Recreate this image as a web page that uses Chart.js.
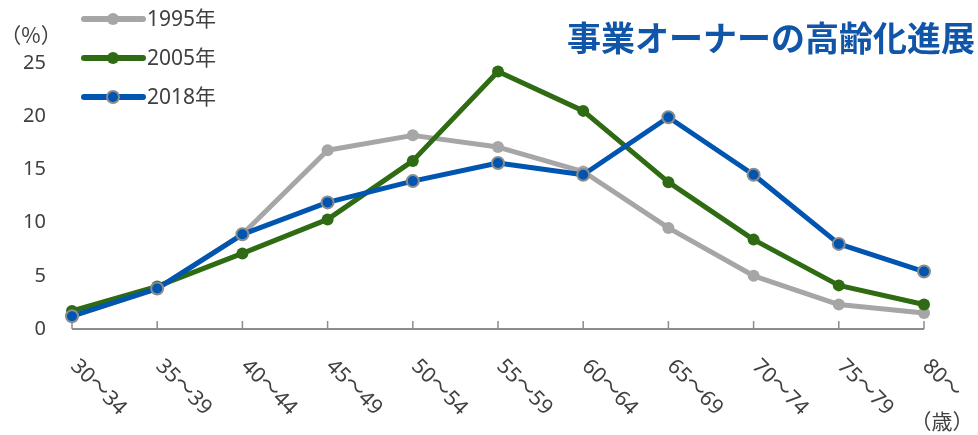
<!DOCTYPE html>
<html>
<head>
<meta charset="utf-8">
<script src="https://cdn.jsdelivr.net/npm/chart.js@4.4.1/dist/chart.umd.min.js"></script>
<style>
  body { margin: 0; background: #fff; }
</style>
</head>
<body>
<canvas id="myChart" width="978" height="435"></canvas>
<script>
const ageGroups = ['30～34', '35～39', '40～44', '45～49', '50～54', '55～59', '60～64', '65～69', '70～74', '75～79', '80～'];
const values1995 = [1.2, 3.8, 8.9, 16.8, 18.2, 17.1, 14.8, 9.5, 5.0, 2.3, 1.5];
const values2005 = [1.7, 4.0, 7.1, 10.3, 15.8, 24.2, 20.5, 13.8, 8.4, 4.1, 2.3];
const values2018 = [1.2, 3.8, 8.9, 11.9, 13.9, 15.6, 14.5, 19.9, 14.5, 8.0, 5.4];
const yTicks = [0, 5, 10, 15, 20, 25];
const seriesNames = ['1995年', '2005年', '2018年'];
const chartTitle = '事業オーナーの高齢化進展';

const FONT = '"Noto Sans", "Noto Sans CJK JP", sans-serif';
const CJK = '"Noto Sans CJK JP", "Noto Sans", sans-serif';
const TEXT = '#404040';
const AXIS = '#8c8c8c';
const colors = ['#a6a6a6', '#2e6b12', '#0055b0'];
const pointBorders = ['#a6a6a6', '#2e6b12', '#8c8c8c'];

function makeSet(i, data, order) {
    return {
        label: seriesNames[i],
        data: data,
        borderColor: colors[i],
        backgroundColor: colors[i],
        borderWidth: 5,
        borderJoinStyle: 'round',
        borderCapStyle: 'round',
        pointRadius: 6,
        pointBackgroundColor: colors[i],
        pointBorderColor: pointBorders[i],
        pointBorderWidth: i === 2 ? 2 : 0,
        tension: 0,
        fill: false,
        clip: false,
        order: order
    };
}

// axis, rotated labels, legend and title
const extras = {
    id: 'extras',
    afterDraw(chart) {
        const ctx = chart.ctx;
        const x = chart.scales.x;
        const area = chart.chartArea;
        ctx.save();

        // x axis line + inner ticks
        ctx.strokeStyle = AXIS;
        ctx.lineWidth = 2;
        ctx.beginPath();
        ctx.moveTo(x.getPixelForValue(0), area.bottom);
        ctx.lineTo(x.getPixelForValue(ageGroups.length - 1), area.bottom);
        ctx.stroke();
        ctx.lineWidth = 1.5;
        ageGroups.forEach((g, i) => {
            const px = x.getPixelForValue(i);
            ctx.beginPath();
            ctx.moveTo(px, area.bottom);
            ctx.lineTo(px, area.bottom - 8);
            ctx.stroke();
        });

        // rotated category labels
        ctx.fillStyle = TEXT;
        ctx.font = '21px ' + FONT;
        ctx.textAlign = 'left';
        ctx.textBaseline = 'middle';
        ageGroups.forEach((g, i) => {
            const px = x.getPixelForValue(i);
            ctx.save();
            ctx.translate(px + 2, area.bottom + 34);
            ctx.rotate(Math.PI / 4);
            ctx.fillText(g, 0, 0);
            ctx.restore();
        });

        // units
        ctx.font = '21px ' + CJK;
        ctx.textAlign = 'center';
        ctx.fillText('（歳）', x.getPixelForValue(ageGroups.length - 1) + 18, 421);
        ctx.fillText('（%）', 31, 35);

        // legend
        const legendY = [19, 58, 97];
        seriesNames.forEach((name, i) => {
            const y = legendY[i];
            ctx.strokeStyle = colors[i];
            ctx.lineWidth = 6;
            ctx.lineCap = 'round';
            ctx.beginPath();
            ctx.moveTo(84, y);
            ctx.lineTo(143, y);
            ctx.stroke();
            ctx.beginPath();
            ctx.arc(113, y, 6, 0, Math.PI * 2);
            ctx.fillStyle = colors[i];
            ctx.fill();
            if (i === 2) {
                ctx.lineWidth = 2;
                ctx.strokeStyle = pointBorders[i];
                ctx.stroke();
            }
            ctx.fillStyle = TEXT;
            ctx.font = '21px ' + FONT;
            ctx.textAlign = 'left';
            ctx.fillText(name, 147, y + 1);
        });

        // title
        ctx.fillStyle = '#1155a8';
        ctx.font = 'bold 34px ' + CJK;
        ctx.textAlign = 'right';
        ctx.fillText(chartTitle, 975, 38);
        ctx.restore();
    }
};

const ctx = document.getElementById('myChart').getContext('2d');
new Chart(ctx, {
    type: 'line',
    data: {
        labels: ageGroups,
        datasets: [
            makeSet(0, values1995, 3),
            makeSet(1, values2005, 2),
            makeSet(2, values2018, 1)
        ]
    },
    options: {
        responsive: false,
        animation: false,
        layout: { padding: { top: 63, right: 54, left: 0, bottom: 0 } },
        plugins: {
            legend: { display: false },
            tooltip: { enabled: false }
        },
        scales: {
            x: {
                offset: false,
                grid: { display: false },
                border: { display: false },
                ticks: { display: false },
                afterFit: s => { s.height = 106; }
            },
            y: {
                min: 0,
                max: 25,
                afterBuildTicks: s => { s.ticks = yTicks.map(v => ({ value: v })); },
                grid: { display: false, drawTicks: false },
                border: { display: false },
                ticks: {
                    color: TEXT,
                    padding: 26,
                    font: { size: 20, family: FONT }
                },
                afterFit: s => { s.width = 72; }
            }
        }
    },
    plugins: [extras]
});
</script>
</body>
</html>
